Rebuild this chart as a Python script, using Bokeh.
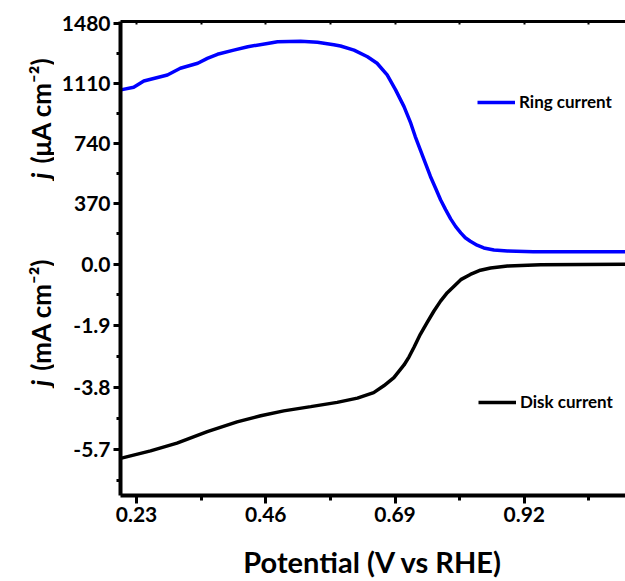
from math import pi
from bokeh.plotting import figure
from bokeh.layouts import row
from bokeh.core.properties import value
from bokeh.models import (Range1d, LinearAxis, FixedTicker, CustomJSTickFormatter,
                          PrintfTickFormatter, Legend, LegendItem)
from bokeh.embed import file_html
from bokeh.resources import INLINE

# ---- data ----
ring_potential = [0.202, 0.225, 0.243, 0.285, 0.308, 0.339, 0.356, 0.374, 0.403, 0.428,
                  0.463, 0.481, 0.522, 0.552, 0.581, 0.593, 0.617, 0.641, 0.658, 0.676,
                  0.691, 0.706, 0.718, 0.726, 0.735, 0.744, 0.753, 0.762, 0.771, 0.780,
                  0.789, 0.798, 0.807, 0.815, 0.824, 0.836, 0.848, 0.866, 0.890, 0.936, 1.100]
ring_current = [1072, 1088, 1127, 1164, 1205, 1236, 1266, 1291, 1317, 1338,
                1358, 1368, 1371, 1365, 1350, 1342, 1317, 1276, 1236, 1164,
                1072, 969, 867, 785, 703, 621, 539, 468, 396, 335,
                278, 230, 192, 162, 140, 116, 99, 86, 80, 75, 76]          # μA cm-2

disk_potential = [0.2015, 0.255, 0.302, 0.356, 0.409, 0.451, 0.492, 0.540, 0.587, 0.623,
                  0.652, 0.670, 0.688, 0.706, 0.715, 0.724, 0.735, 0.747, 0.759, 0.771,
                  0.783, 0.795, 0.807, 0.824, 0.842, 0.860, 0.890, 0.949, 1.100]
disk_current = [-5.97, -5.74, -5.50, -5.15, -4.85, -4.66, -4.51, -4.38, -4.25, -4.12,
                -3.95, -3.74, -3.49, -3.10, -2.85, -2.55, -2.16, -1.80, -1.45, -1.14,
                -0.88, -0.68, -0.48, -0.32, -0.19, -0.12, -0.06, -0.02, -0.01]  # mA cm-2

x_ticks = [0.23, 0.46, 0.69, 0.92]
x_minor = [0.345, 0.575, 0.805, 1.035]
ring_ticks = [370, 740, 1110, 1480]
ring_minor = [185, 555, 925, 1295]
disk_ticks = [0.0, -1.9, -3.8, -5.7]
disk_minor = [-0.95, -2.85, -4.75, -6.65]

S = 200.4  # μA cm-2 of the ring scale per mA cm-2 of the disk scale
FONT = "Lato"
H = 581
LAB_W = 54

# ---- main plot ----
p = figure(width=625 - LAB_W, height=H, output_backend="svg", toolbar_location=None,
           x_range=Range1d(0.2015, 1.1001), y_range=Range1d(-7.11, 7.45),
           x_axis_type=None, y_axis_type=None,
           min_border_left=120 - LAB_W, min_border_right=0, min_border_top=21,
           min_border_bottom=85)
p.extra_y_ranges = {"ring": Range1d(-7.11 * S, 7.45 * S)}
p.grid.visible = False
p.outline_line_color = None


def style(ax):
    ax.axis_line_width = 4
    ax.axis_line_color = "black"
    ax.major_tick_line_width = 3
    ax.minor_tick_line_width = 3
    ax.major_tick_line_color = "black"
    ax.minor_tick_line_color = "black"
    ax.major_label_text_font = FONT
    ax.major_label_text_font_style = "bold"
    ax.major_label_text_font_size = "21px"
    ax.major_label_text_color = "black"


x_ticker = FixedTicker(ticks=x_ticks, minor_ticks=x_minor)
xaxis = LinearAxis(ticker=x_ticker, formatter=PrintfTickFormatter(format="%.2f"),
                   axis_label="Potential (V vs RHE)")
style(xaxis)
xaxis.major_tick_out = 8
xaxis.major_tick_in = 0
xaxis.minor_tick_out = 5
xaxis.minor_tick_in = 0
xaxis.major_label_standoff = 3
xaxis.axis_label_text_font = FONT
xaxis.axis_label_text_font_style = "bold"
xaxis.axis_label_text_font_size = "29px"
xaxis.axis_label_text_color = "black"
xaxis.axis_label_standoff = 19
p.add_layout(xaxis, "below")

# top frame line with small inward ticks and no labels
topaxis = LinearAxis(ticker=x_ticker,
                     formatter=CustomJSTickFormatter(code="return '';"),
                     major_tick_in=3, major_tick_out=0, minor_tick_in=3, minor_tick_out=0,
                     major_label_standoff=0)
topaxis.axis_line_width = 3
topaxis.major_tick_line_width = 2
topaxis.minor_tick_line_width = 2
p.add_layout(topaxis, "above")

y_ticker = FixedTicker(ticks=disk_ticks + [t / S for t in ring_ticks],
                       minor_ticks=disk_minor + [t / S for t in ring_minor])
yfmt = CustomJSTickFormatter(args=dict(s=S), code="""
    if (tick > 0.01) { return (tick * s).toFixed(0); }
    return tick.toFixed(1);
""")
yaxis = LinearAxis(ticker=y_ticker, formatter=yfmt)
style(yaxis)
yaxis.major_tick_out = 7
yaxis.major_tick_in = 0
yaxis.minor_tick_out = 4
yaxis.minor_tick_in = 0
yaxis.major_label_standoff = 3
p.add_layout(yaxis, "left")

r_ring = p.line(ring_potential, ring_current, y_range_name="ring",
                line_color="#0000FF", line_width=3.5)
r_disk = p.line(disk_potential, disk_current, line_color="black", line_width=3.5)


def make_legend(item, loc):
    lg = Legend(items=[item], location=loc, orientation="vertical",
                border_line_color=None, background_fill_alpha=0, padding=0, margin=0,
                spacing=0, glyph_width=38, glyph_height=20, label_height=20,
                label_standoff=4, label_text_font=FONT, label_text_font_style="bold",
                label_text_font_size="17px", label_text_color="black")
    p.add_layout(lg)


make_legend(LegendItem(label="Ring current", renderers=[r_ring]), (357, 383))
make_legend(LegendItem(label="Disk current", renderers=[r_disk]), (358, 83))

# ---- side strip holding the two y-axis titles (italic j + unit) ----
lab = figure(width=LAB_W, height=H, output_backend="svg", toolbar_location=None,
             x_range=Range1d(0, LAB_W), y_range=Range1d(0, H),
             x_axis_type=None, y_axis_type=None, min_border=0)
lab.grid.visible = False
lab.outline_line_color = None

title_x = 40
j_top = [193, 447]          # distance from the top of the page
unit_top = [174, 428]
units = ["(μA cm⁻²)", "(mA cm⁻²)"]

lab.text(x=[title_x] * 2, y=[H - t for t in j_top], text=["j", "j"], angle=pi / 2,
         text_font=value(FONT), text_font_style="bold italic", text_font_size="26px",
         text_align="left", text_baseline="middle", text_color="black")
lab.text(x=[title_x] * 2, y=[H - t for t in unit_top], text=units, angle=pi / 2,
         text_font=value(FONT), text_font_style="bold", text_font_size="26px",
         text_align="left", text_baseline="middle", text_color="black")

layout = row(lab, p, spacing=0)
open("out.html", "w").write(file_html(layout, INLINE))
